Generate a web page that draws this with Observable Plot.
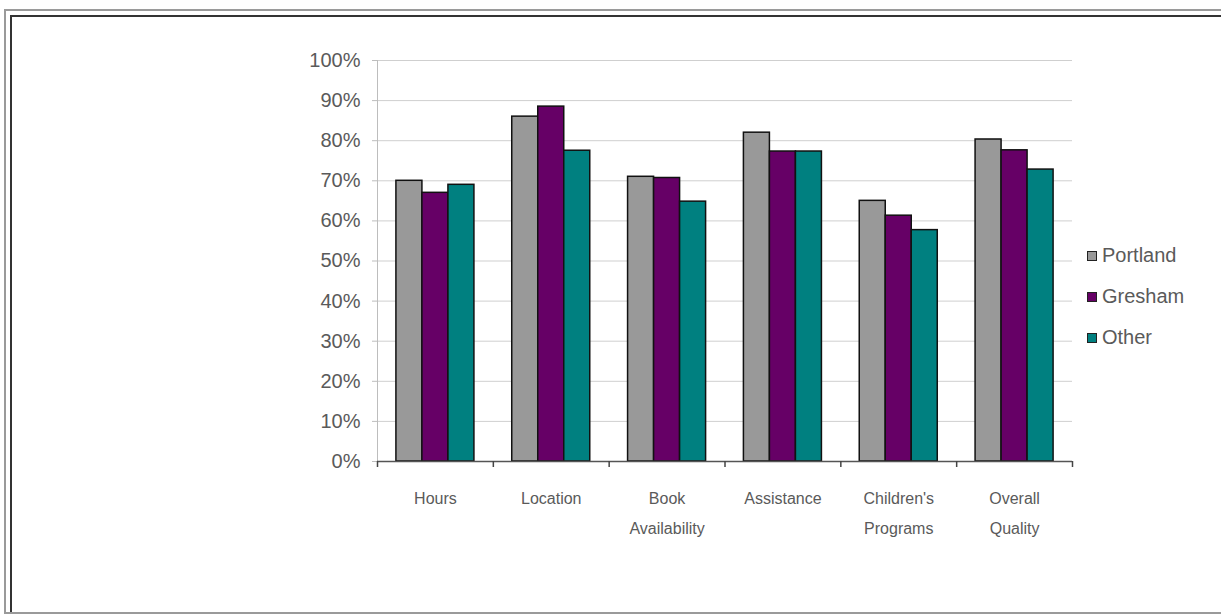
<!DOCTYPE html>
<html>
<head>
<meta charset="utf-8">
<script src="https://cdn.jsdelivr.net/npm/d3@7"></script>
<script src="https://cdn.jsdelivr.net/npm/@observablehq/plot@0.6"></script>
<style>
  body { margin: 0; background: #fff; }
  #wrap { position: relative; width: 1221px; height: 615px; overflow: hidden; background: #fff; }
  #chart { position: absolute; left: 0; top: 0; }
  .b1 { position: absolute; left: 4px; top: 9px; width: 1400px; height: 605px; box-sizing: border-box;
        border-left: 2px solid #9a9a9a; border-top: 2px solid #9a9a9a; border-bottom: 2px solid #9a9a9a; }
  .b2 { position: absolute; left: 10px; top: 15px; width: 1400px; height: 597px; box-sizing: border-box;
        border-left: 2px solid #333; border-top: 2px solid #333; }
  #legend { position: absolute; left: 1087px; top: 235px; font-family: "Liberation Sans", Arial, sans-serif;
            font-size: 20px; color: #5a5a5a; }
  #legend .row { display: flex; align-items: center; height: 41px; }
  #legend .sw { width: 8px; height: 8px; border: 1px solid #222; margin-right: 5px; }
</style>
</head>
<body>
<div id="wrap">
  <div class="b1"></div>
  <div class="b2"></div>
  <div id="chart"></div>
  <div id="legend"></div>
</div>
<script>
const categories = ["Hours", "Location", "Book\nAvailability", "Assistance", "Children's\nPrograms", "Overall\nQuality"];
const series = ["Portland", "Gresham", "Other"];
const portland = [70, 86, 71, 82, 65, 80.3];
const gresham = [67, 88.5, 70.7, 77.3, 61.3, 77.6];
const other = [69, 77.5, 64.8, 77.3, 57.7, 72.8];
const colors = ["#999999", "#660066", "#008080"];
const yTicks = [0, 10, 20, 30, 40, 50, 60, 70, 80, 90, 100];

const values = [portland, gresham, other];
const rows = [];
categories.forEach((c, i) => series.forEach((s, j) => rows.push({cat: c, i, s, j, v: values[j][i]})));

const barW = 0.2245;              // bar width as fraction of a category slot
const gap = (1 - 3 * barW) / 2;   // outer gap in each slot
const boundaries = d3.range(categories.length + 1);

const chart = Plot.plot({
  width: 1221,
  height: 615,
  marginLeft: 377,
  marginRight: 149,
  marginTop: 60,
  marginBottom: 154,
  style: {background: "transparent", fontFamily: "'Liberation Sans', Arial, sans-serif"},
  x: {domain: [0, categories.length], axis: null, label: null},
  y: {domain: [0, 100], axis: null, label: null},
  color: {domain: series, range: colors},
  marks: [
    Plot.gridY(yTicks, {stroke: "#cfcfcf", strokeOpacity: 1}),
    Plot.ruleX([0], {stroke: "#bdbdbd"}),
    Plot.axisY({ticks: yTicks, tickSize: 5, tickPadding: 12, tickFormat: d => d + "%", label: null,
                fontSize: 20, stroke: "#bdbdbd", fill: "#5a5a5a"}),
    Plot.rect(rows, {
      x1: d => d.i + gap + d.j * barW,
      x2: d => d.i + gap + (d.j + 1) * barW,
      y1: 0, y2: "v",
      fill: "s", stroke: "#111", strokeWidth: 1.5
    }),
    Plot.ruleY([0], {stroke: "#555", strokeWidth: 1.5}),
    Plot.axisX({ticks: boundaries, tickSize: 6, tickFormat: () => "", label: null, stroke: "#444", strokeWidth: 1.5}),
    Plot.text(categories, {
      x: (d, i) => i + 0.5, y: () => 0, text: d => d,
      lineAnchor: "top", dy: 21, lineHeight: 1.9,
      fontSize: 16, fill: "#5a5a5a"
    })
  ]
});
document.getElementById("chart").appendChild(chart);

const legend = document.getElementById("legend");
series.forEach((s, j) => {
  const row = document.createElement("div");
  row.className = "row";
  row.innerHTML = `<span class="sw" style="background:${colors[j]}"></span><span>${s}</span>`;
  legend.appendChild(row);
});
</script>
</body>
</html>
